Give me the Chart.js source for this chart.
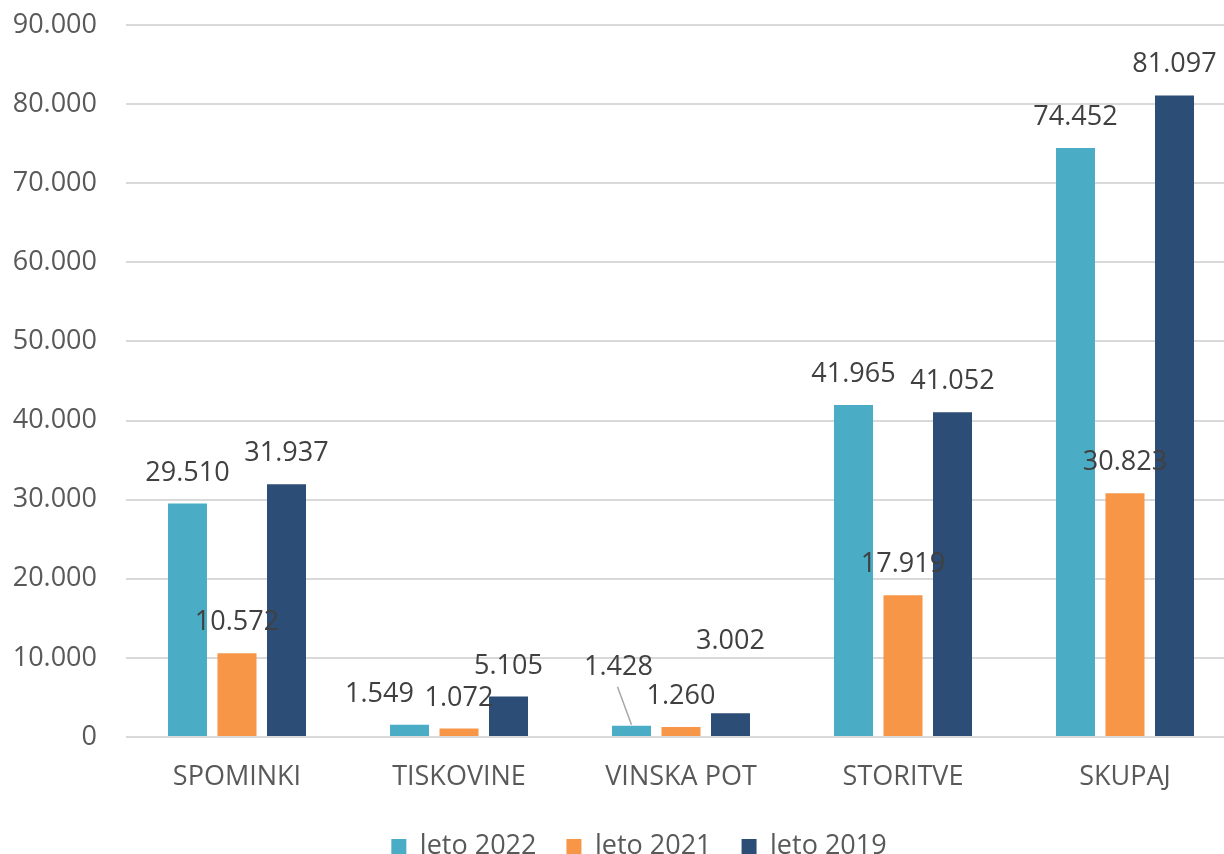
<!DOCTYPE html>
<html>
<head>
<meta charset="utf-8">
<script src="https://cdn.jsdelivr.net/npm/chart.js@4.4.1/dist/chart.umd.min.js"></script>
<style>
  html, body { margin: 0; padding: 0; background: #ffffff; overflow: hidden; }
  #wrap { position: relative; width: 1274px; height: 854px; }
</style>
</head>
<body>
<div id="wrap"><canvas id="c"></canvas></div>
<script>
// Categories and yearly totals
const categories = ['SPOMINKI', 'TISKOVINE', 'VINSKA POT', 'STORITVE', 'SKUPAJ'];
const seriesNames = ['leto 2022', 'leto 2021', 'leto 2019'];
const values2022 = [29510, 1549, 1428, 41965, 74452];
const values2021 = [10572, 1072, 1260, 17919, 30823];
const values2019 = [31937, 5105, 3002, 41052, 81097];
const yTicks = [0, 10000, 20000, 30000, 40000, 50000, 60000, 70000, 80000, 90000];

const colors = ['#4BACC6', '#F79646', '#2C4D75'];

// Thousands separated with a dot
function fmt(v) {
  return String(Math.round(v)).replace(/\B(?=(\d{3})+(?!\d))/g, '.');
}

// Manual nudges for a few value labels that would otherwise collide
const labelNudge = {
  '0-1': { dx: -30, dy: 0 },
  '0-2': { dx: -13, dy: -28, leader: true },
  '2-2': { dx: 0, dy: -41 }
};

const valueLabels = {
  id: 'valueLabels',
  afterDatasetsDraw(chart) {
    const ctx = chart.ctx;
    ctx.save();
    ctx.font = '27px "Open Sans"';
    ctx.fillStyle = '#404040';
    ctx.textAlign = 'center';
    ctx.textBaseline = 'alphabetic';
    chart.data.datasets.forEach((ds, di) => {
      const meta = chart.getDatasetMeta(di);
      meta.data.forEach((bar, i) => {
        const n = labelNudge[di + '-' + i] || { dx: 0, dy: 0 };
        const cx = bar.x + n.dx;
        const cy = bar.y - 33 + n.dy;
        if (n.leader) {
          ctx.beginPath();
          ctx.strokeStyle = '#a6a6a6';
          ctx.lineWidth = 1.5;
          ctx.moveTo(cx - 1, cy + 22);
          ctx.lineTo(bar.x, bar.y - 1);
          ctx.stroke();
        }
        ctx.fillText(fmt(ds.data[i]), cx, cy + 10);
      });
    });
    ctx.restore();
  }
};

// Centre the legend row under the whole figure rather than the padded box
const legendShift = {
  id: 'legendShift',
  afterLayout(chart) {
    if (chart.legend) {
      chart.legend.left += 15;
      chart.legend.right += 15;
    }
  }
};

const datasets = [values2022, values2021, values2019].map((vals, k) => ({
  label: seriesNames[k],
  data: vals,
  backgroundColor: colors[k],
  borderWidth: 0,
  categoryPercentage: 0.669,
  barPercentage: 0.788
}));

new Chart(document.getElementById('c'), {
  type: 'bar',
  data: { labels: categories, datasets },
  plugins: [valueLabels, legendShift],
  options: {
    responsive: true,
    maintainAspectRatio: false,
    animation: false,
    layout: { padding: { left: 12, right: 38, top: 25, bottom: -16 } },
    plugins: {
      tooltip: { enabled: false },
      legend: {
        position: 'bottom',
        labels: {
          font: { family: 'Open Sans', size: 27 },
          color: '#595959',
          boxWidth: 15,
          boxHeight: 15,
          padding: 30
        }
      }
    },
    scales: {
      x: {
        grid: { display: false, drawTicks: false },
        border: { display: false },
        ticks: {
          font: { family: 'Open Sans', size: 27 },
          color: '#595959',
          padding: 24
        },
        afterFit(scale) {
          scale.height = 66;
          scale.paddingLeft = 0;
          scale.paddingRight = 0;
        }
      },
      y: {
        min: 0,
        max: 90000,
        afterBuildTicks(scale) {
          scale.ticks = yTicks.map(v => ({ value: v }));
        },
        grid: { color: '#d9d9d9', lineWidth: 2, drawTicks: false },
        border: { display: false },
        ticks: {
          font: { family: 'Open Sans', size: 27 },
          color: '#595959',
          padding: 29,
          callback: v => fmt(v)
        },
        afterFit(scale) {
          scale.width = 114;
          scale.paddingTop = 0;
          scale.paddingBottom = 0;
        }
      }
    }
  }
});
</script>
</body>
</html>
